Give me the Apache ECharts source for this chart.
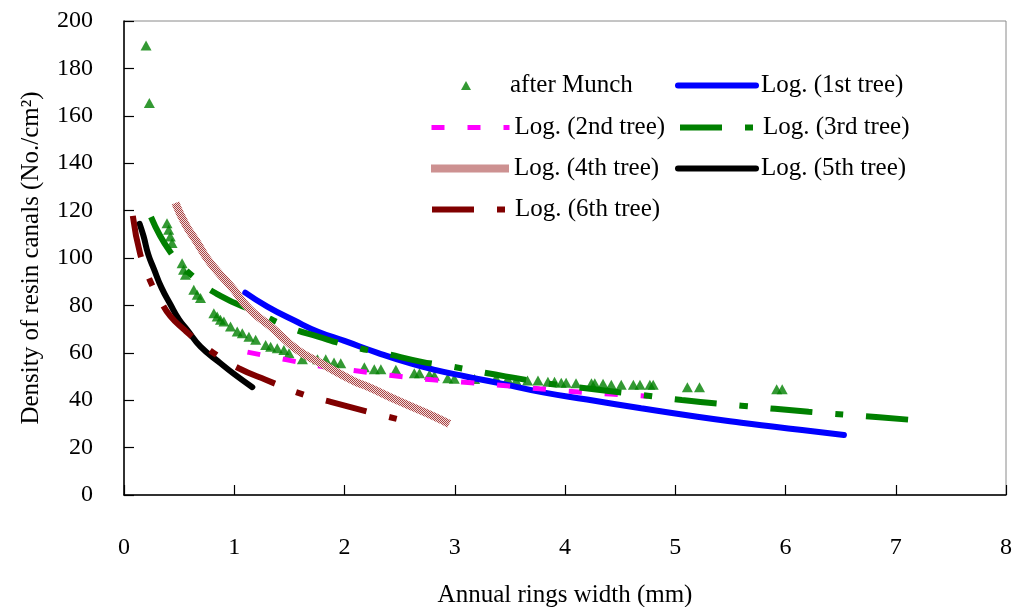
<!DOCTYPE html>
<html>
<head>
<meta charset="utf-8">
<script src="https://cdn.jsdelivr.net/npm/echarts@6/dist/echarts.min.js"></script>
<style>html,body{margin:0;padding:0;background:#fff}#c{width:1014px;height:607px}</style>
</head>
<body>
<div id="c"></div>
<script>
// ---- data ----
var xTicks = [0, 1, 2, 3, 4, 5, 6, 7, 8];
var yTicks = [0, 20, 40, 60, 80, 100, 120, 140, 160, 180, 200];

var afterMunch = [
  [0.20,189.7],[0.23,165.4],
  [0.39,114.7],[0.405,111.9],[0.42,109.1],[0.436,106.3],
  [0.527,97.8],[0.54,95.0],[0.557,92.9],
  [0.633,86.6],[0.664,84.5],[0.694,83.1],
  [0.815,76.7],[0.845,75.3],[0.875,73.9],[0.906,73.2],[0.966,71.1],[1.027,69.0],[1.073,68.3],
  [1.133,66.8],[1.194,65.5],[1.285,63.3],[1.33,62.6],[1.39,61.9],[1.45,61.2],[1.497,59.8],
  [1.618,57.3],[1.755,57.3],[1.83,57.3],[1.905,55.9],[1.966,55.6],
  [2.18,53.9],[2.27,53.1],[2.33,53.1],[2.466,52.8],[2.633,51.4],[2.68,51.4],[2.77,50.7],[2.815,50.3],
  [2.936,49.3],[2.996,49.1],[3.18,48.9],[3.375,49.3],[3.48,48.9],[3.557,48.3],[3.66,48.3],[3.755,48.3],
  [3.845,47.8],[3.905,47.8],[3.966,47.4],[4.01,47.4],[4.10,47.2],[4.24,47.2],[4.27,47.2],[4.345,46.9],
  [4.42,46.5],[4.51,46.5],[4.62,46.5],[4.68,46.5],[4.77,46.5],[4.80,46.5],
  [5.11,45.5],[5.22,45.5],[5.92,44.6],[5.97,44.6]
];
var tree1 = [[1.10,85.4],[1.30,79.5],[1.55,73.5],[1.76,68.9],[2.0,65.0],[2.30,60.0],[2.6,55.5],[2.82,52.8],
  [3.1,50.0],[3.39,47.3],[3.8,43.3],[4.2,40.3],[4.69,36.6],[5.2,33.0],[5.6,30.5],[5.9,28.8],[6.15,27.4],[6.53,25.3]];
var tree2 = [[1.12,60.3],[1.48,57.0],[1.8,54.2],[2.12,52.3],[2.45,50.3],[2.8,48.6],[3.09,47.6],[3.44,46.2],
  [3.77,44.8],[4.09,43.6],[4.41,42.6],[4.75,41.7]];
var tree3 = [[0.245,117.3],[0.42,102.5],[0.62,92.5],[0.875,84.0],[1.21,77.0],[1.48,71.1],[1.76,66.8],[2.09,62.4],
  [2.36,59.8],[2.69,56.3],[2.97,54.2],[3.27,51.6],[3.57,49.2],[3.85,47.0],[4.3,44.4],[4.75,41.9],[5.06,40.1],
  [5.6,37.7],[6.21,35.1],[6.85,32.8],[7.19,31.5]];
var tree4 = [[0.466,123.2],[0.56,114.0],[0.664,106.5],[0.75,100.0],[0.845,94.5],[0.996,86.6],[1.087,81.0],
  [1.178,76.7],[1.33,71.1],[1.573,61.2],[1.785,55.6],[2.087,48.0],[2.21,45.7],[2.5,39.5],[2.815,33.1],[2.95,30.0]];
var tree5 = [[0.142,114.4],[0.178,109.1],[0.22,101.5],[0.27,95.5],[0.34,87.5],[0.42,80.5],[0.5,74.0],
  [0.573,69.7],[0.694,62.6],[0.875,55.6],[1.0,51.0],[1.164,45.5]];
var tree6 = [[0.08,117.8],[0.148,101.5],[0.233,90.8],[0.33,82.0],[0.42,75.5],[0.55,69.6],[0.694,64.0],
  [0.87,58.2],[1.04,53.5],[1.285,48.6],[1.65,42.0],[1.875,39.3],[2.25,34.7],[2.53,31.5]];

var names = ['after Munch','Log. (1st tree)','Log. (2nd tree)','Log. (3rd tree)','Log. (4th tree)','Log. (5th tree)','Log. (6th tree)'];

// checker texture for the 4th-tree band
var pc = document.createElement('canvas');
pc.width = 2; pc.height = 2;
var pctx = pc.getContext('2d');
pctx.fillStyle = '#f2dede'; pctx.fillRect(0, 0, 2, 2);
pctx.fillStyle = '#a94444'; pctx.fillRect(0, 0, 1, 1); pctx.fillRect(1, 1, 1, 1);
var hatch = {image: pc, repeat: 'repeat'};

var FONT = 'Liberation Serif';
var styles = {
  'Log. (1st tree)': {color: '#0000ff', width: 6, type: 'solid', cap: 'round'},
  'Log. (2nd tree)': {color: '#ff00ff', width: 5, type: [13, 23], cap: 'butt'},
  'Log. (3rd tree)': {color: '#008000', width: 6, type: [42, 23, 8, 23], cap: 'butt'},
  'Log. (4th tree)': {color: hatch, width: 8, type: 'solid', cap: 'butt'},
  'Log. (5th tree)': {color: '#000000', width: 6, type: 'solid', cap: 'round'},
  'Log. (6th tree)': {color: '#800000', width: 6, type: [42, 23, 8, 23], cap: 'butt'}
};
function leg(name, left, top) {
  var o = {
    data: [name], left: left, top: top, padding: 0,
    itemWidth: 78, itemHeight: 10, itemGap: 0,
    textStyle: {fontFamily: FONT, fontSize: 25, color: '#000'}
  };
  if (styles[name]) {
    o.lineStyle = styles[name];
    o.itemStyle = {color: 'rgba(0,0,0,0)', borderWidth: 0, opacity: 0};
  } else {
    // small triangle centred in a 78px-wide icon box
    o.data = [{name: name, icon: 'path://M0,0M78,10M39,0.5L44,9.5L34,9.5Z'}];
    o.symbolKeepAspect = true;
  }
  return o;
}
function lineSeries(name, data) {
  var s = styles[name];
  return {
    name: name, type: 'line', data: data, smooth: true, symbol: 'none', showSymbol: false,
    lineStyle: {color: s.color, width: s.width, type: s.type, cap: s.cap},
    itemStyle: {color: typeof s.color === 'string' ? s.color : '#c99a9a'}
  };
}

var chart = echarts.init(document.getElementById('c'), null, {renderer: 'canvas'});
chart.setOption({
  animation: false,
  backgroundColor: '#fff',
  grid: {left: 124, right: 8, top: 21, bottom: 112, show: true, borderColor: '#8a8a8a', borderWidth: 1,
         containLabel: false, outerBoundsMode: 'none'},
  legend: [
    leg(names[0], 427, 73),
    leg(names[1], 675, 73),
    leg(names[2], 429, 115),
    leg(names[3], 677, 115),
    leg(names[4], 427, 156),
    leg(names[5], 675, 156),
    leg(names[6], 429, 197)
  ],
  xAxis: {
    type: 'value', min: xTicks[0], max: xTicks[xTicks.length - 1], interval: 1,
    name: 'Annual rings width (mm)', nameLocation: 'middle', nameGap: 88,
    nameTextStyle: {fontFamily: FONT, fontSize: 25, color: '#000'},
    axisLine: {show: true, onZero: false, lineStyle: {color: '#000', width: 1.5}},
    axisTick: {show: true, inside: true, length: 10, lineStyle: {color: '#000', width: 1.2}},
    axisLabel: {fontFamily: FONT, fontSize: 24, color: '#000', margin: 41},
    splitLine: {show: false}
  },
  yAxis: {
    type: 'value', min: yTicks[0], max: yTicks[yTicks.length - 1], interval: 20,
    name: 'Density of resin canals (No./cm\u00B2)', nameLocation: 'middle', nameGap: 80, nameRotate: 90,
    nameTextStyle: {fontFamily: FONT, fontSize: 25, color: '#000'},
    axisLine: {show: true, onZero: false, lineStyle: {color: '#000', width: 1.5}},
    axisTick: {show: true, inside: true, length: 10, lineStyle: {color: '#000', width: 1.2}},
    axisLabel: {fontFamily: FONT, fontSize: 24, color: '#000', margin: 31, padding: [4, 0, 0, 0]},
    splitLine: {show: false}
  },
  series: [
    {name: names[0], type: 'scatter', data: afterMunch, symbol: 'triangle', symbolSize: [11, 10],
     itemStyle: {color: '#008000'}, z: 2},
    lineSeries(names[1], tree1),
    lineSeries(names[2], tree2),
    lineSeries(names[3], tree3),
    lineSeries(names[4], tree4),
    lineSeries(names[5], tree5),
    lineSeries(names[6], tree6)
  ]
});
</script>
</body>
</html>
